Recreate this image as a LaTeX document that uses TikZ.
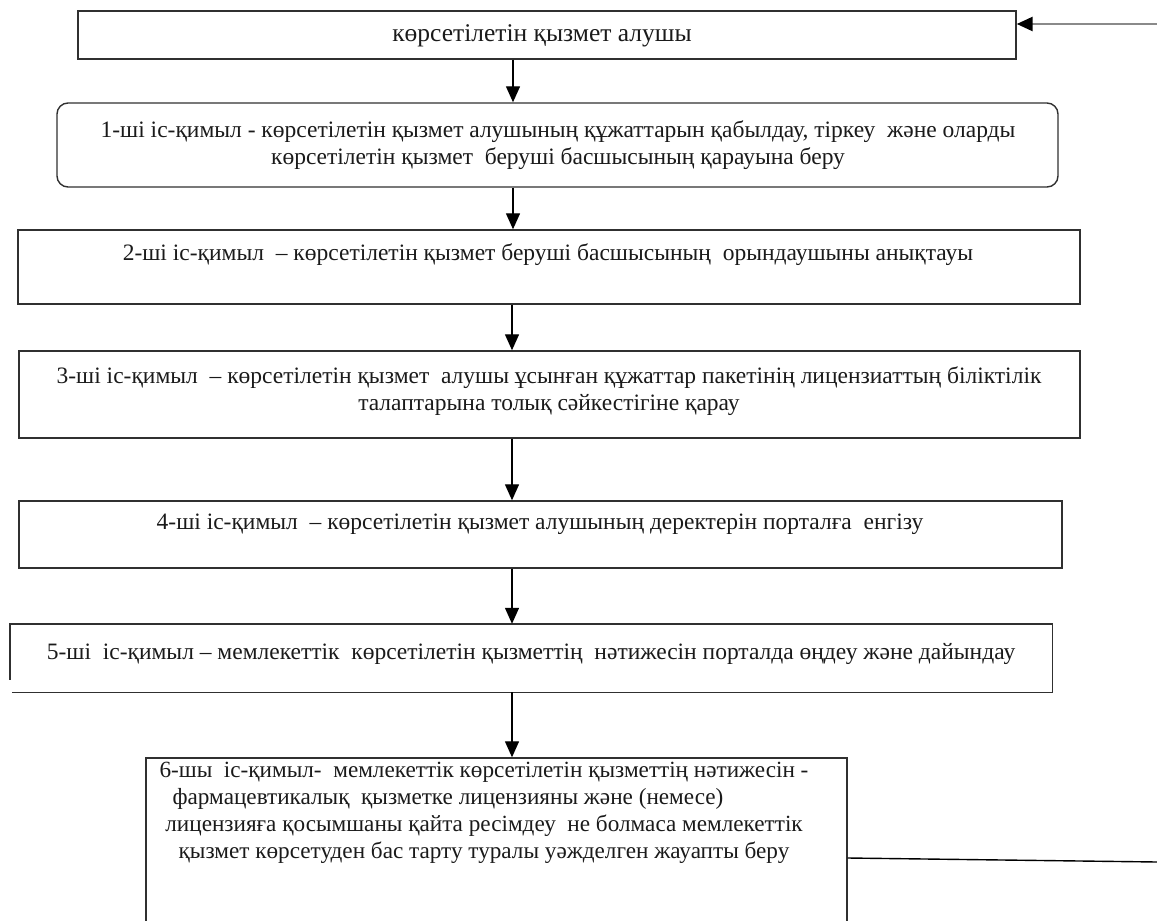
\documentclass[tikz,border=0pt]{standalone}
\usepackage{fontspec}
\setmainfont{Liberation Serif}
\usetikzlibrary{arrows.meta}
\definecolor{ink}{HTML}{1A1A1A}
\definecolor{edge}{HTML}{303030}
\definecolor{feed}{HTML}{8A8A8A}
\tikzset{
  x=1pt, y=-1pt,
  stepbox/.style={draw=edge, line width=1.4pt, inner sep=0pt, fill=none},
  roundbox/.style={stepbox, rounded corners=11pt},
  txt/.style={inner sep=0pt, align=center, text=ink,
    font=\fontsize{23.5}{27.5}\selectfont},
  arr/.style={draw=black, line width=1.3pt,
    -{Triangle[length=16pt,width=14pt]}},
  fb/.style={draw=feed, line width=2.6pt},
  fbtip/.style={-{Triangle[length=16pt,width=14pt,color=black]}},
  plainline/.style={draw=black, line width=1.4pt}
}
\begin{document}
\begin{tikzpicture}
\useasboundingbox (0,0) rectangle (1157,921);
\clip (0,0) rectangle (1157,921);

% boxes of the procedure
\node[stepbox, minimum width=938pt, minimum height=48pt] (s0) at (547,35) {};
\node[txt, font=\fontsize{25.5}{28}\selectfont] (s0t) at (542,36) {көрсетілетін қызмет алушы};

\node[roundbox, minimum width=1001pt, minimum height=84pt] (s1) at (557.5,145) {};
\node[txt] (s1t) at (558,145) {1-ші іс-қимыл - көрсетілетін қызмет алушының құжаттарын қабылдау, тіркеу\ \ және оларды\\көрсетілетін қызмет\ \ беруші басшысының қарауына беру};

\node[stepbox, minimum width=1062pt, minimum height=74pt] (s2) at (549,267) {};
\node[txt] (s2t) at (548,255) {2-ші іс-қимыл\ \ – көрсетілетін қызмет беруші басшысының\ \ орындаушыны анықтауы};

\node[stepbox, minimum width=1061pt, minimum height=87pt] (s3) at (549.5,394.5) {};
\node[txt] (s3t) at (549,391) {3-ші іс-қимыл\ \ – көрсетілетін қызмет\ \ алушы ұсынған құжаттар пакетінің лицензиаттың біліктілік\\талаптарына толық сәйкестігіне қарау};

\node[stepbox, minimum width=1043pt, minimum height=67pt] (s4) at (540.5,534.5) {};
\node[txt] (s4t) at (540,524) {4-ші іс-қимыл\ \ – көрсетілетін қызмет алушының деректерін порталға\ \ енгізу};

% box 5: its left side stops short of the bottom line
\node[inner sep=0pt, minimum width=1042pt, minimum height=68pt] (s5) at (531,658) {};
\draw[stepbox] ([xshift=2pt]s5.south west) -- (s5.south east) -- (s5.north east)
  -- (s5.north west) -- ++(0,56);
\node[txt] (s5t) at (531,654) {5-ші\ \ іс-қимыл – мемлекеттік\ \ көрсетілетін қызметтің\ \ нәтижесін порталда өңдеу және дайындау};

\node[stepbox, minimum width=701pt, minimum height=200pt] (s6) at (496.5,858) {};
\node[txt, font=\fontsize{23.2}{27}\selectfont] (s6t) at (484,813) {6-шы\ \ іс-қимыл-\ \ мемлекеттік көрсетілетін қызметтің нәтижесін -\\фармацевтикалық\ \ қызметке лицензияны және (немесе)\hspace*{72pt}\null\\лицензияға қосымшаны қайта ресімдеу\ \ не болмаса мемлекеттік\\қызмет көрсетуден бас тарту туралы уәжделген жауапты беру};

% flow arrows
\coordinate (a0) at (513,0);
\coordinate (a1) at (512,0);
\draw[arr] (s0.south -| a0) -- (s1.north -| a0);
\draw[arr] (s1.south -| a0) -- (s2.north -| a0);
\draw[arr] (s2.south -| a1) -- (s3.north -| a1);
\draw[arr] (s3.south -| a1) -- (s4.north -| a1);
\draw[arr] (s4.south -| a1) -- (s5.north -| a1);
\draw[arr] (s5.south -| a1) -- (s6.north -| a1);

% return line from the last step back to the applicant
\coordinate (fbin) at (1157,24);
\coordinate (fbout) at (1157,862);
\coordinate (fbstart) at (0,858);
\draw[fb, fbtip] (fbin) -- (s0.east |- fbin);
\draw[plainline] (s6.east |- fbstart) -- (fbout);
\end{tikzpicture}
\end{document}
